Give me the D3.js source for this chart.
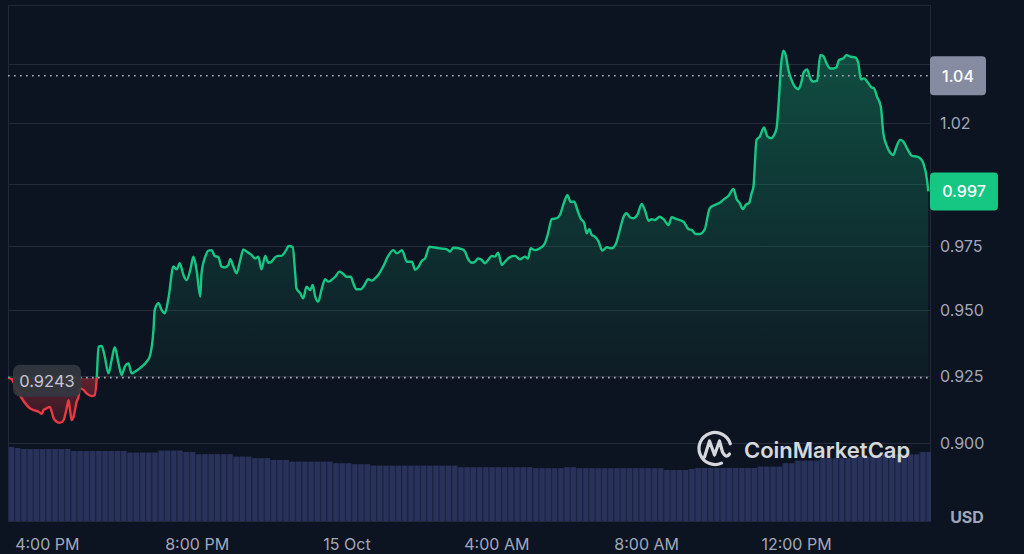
<!DOCTYPE html>
<html><head><meta charset="utf-8">
<script src="https://cdn.jsdelivr.net/npm/d3@7"></script>
<style>html,body{margin:0;padding:0;background:#0d1421;overflow:hidden}svg{display:block}</style>
</head><body><svg id="chart" width="1024" height="554"></svg>
<script>
// ---------- DATA ----------
const startTime = new Date(2023, 9, 14, 14, 57, 0);
const endTime = new Date(2023, 9, 15, 15, 35, 24);
// minutes after startTime
const minutes = [0,6,13,22,35,41,49,54,57,62,67,70,73,78,83,89,94,97,99,102,105,110,113,115,121,126,134,139,142,145,150,155,161,166,171,177,182,187,193,198,203,211,222,227,233,235,241,246,251,257,265,270,275,281,286,292,297,302,308,310,316,321,326,331,337,342,348,353,356,361,366,372,377,382,390,396,401,406,412,417,422,428,433,438,444,450,456,460,462,468,473,478,484,488,492,497,502,508,513,518,524,531,537,542,549,553,558,565,570,577,583,588,593,601,609,617,623,631,639,647,652,657,663,668,675,681,692,703,708,713,727,732,737,743,748,753,759,764,769,775,780,785,791,796,804,812,820,828,833,837,844,852,860,865,871,879,884,891,896,901,907,912,917,923,927,931,935,940,946,952,959,967,974,980,986,991,996,1002,1008,1015,1020,1026,1031,1036,1044,1050,1058,1063,1071,1082,1090,1095,1102,1108,1116,1124,1132,1140,1147,1154,1162,1167,1172,1177,1182,1187,1191,1194,1199,1204,1211,1216,1222,1226,1231,1235,1238,1242,1246,1250,1255,1261,1266,1270,1275,1280,1285,1290,1296,1301,1306,1311,1317,1322,1327,1331,1338,1343,1350,1357,1362,1366,1371,1378,1383,1387,1392,1398,1402,1407,1413,1418,1423,1429,1434,1440,1448,1456,1461,1466,1472,1474];
const prices = [0.9243,0.9237,0.9204,0.9166,0.9129,0.9122,0.9116,0.9108,0.9122,0.9129,0.9134,0.9116,0.9092,0.9079,0.9075,0.9085,0.9129,0.9159,0.9129,0.9085,0.9098,0.9153,0.9172,0.9203,0.9197,0.9184,0.9174,0.9178,0.9237,0.9360,
0.9363,0.9322,0.9259,0.9310,0.9358,0.9297,0.9253,0.9284,0.9297,0.9259,0.9265,0.9278,0.9303,0.9322,0.9424,0.9501,0.9527,0.9501,0.9488,0.9546,
0.9670,0.9659,0.9683,0.9637,0.9617,0.9657,0.9709,0.9657,0.9553,0.9644,0.9709,0.9733,0.9735,0.9712,0.9707,0.9670,0.9667,0.9676,0.9699,0.9670,
0.9644,0.9696,0.9738,0.9729,0.9716,0.9702,0.9709,0.9659,0.9712,0.9685,0.9689,0.9707,0.9712,0.9712,0.9729,0.9751,0.9746,0.9644,0.9585,0.9566,
0.9546,0.9591,0.9578,0.9598,0.9553,0.9533,0.9578,0.9620,0.9611,0.9617,0.9630,0.9650,0.9641,0.9630,0.9630,0.9605,0.9581,0.9581,0.9594,0.9620,
0.9615,0.9624,0.9637,0.9670,0.9712,0.9735,0.9722,0.9735,0.9689,0.9689,0.9657,0.9667,0.9693,0.9702,0.9748,0.9746,0.9742,0.9738,0.9729,0.9744,
0.9739,0.9729,0.9699,0.9685,0.9689,0.9702,0.9696,0.9683,0.9696,0.9712,0.9709,0.9725,0.9676,0.9689,0.9707,0.9712,0.9699,0.9709,0.9702,0.9742,
0.9735,0.9742,0.9762,0.9802,0.9858,0.9862,0.9875,0.9928,0.9955,0.9928,0.9928,0.9895,0.9862,0.9842,0.9802,0.9818,0.9795,0.9788,0.9768,0.9733,
0.9746,0.9742,0.9762,0.9815,0.9868,0.9882,0.9866,0.9862,0.9875,0.9919,0.9895,0.9852,0.9858,0.9855,0.9868,0.9858,0.9835,0.9866,0.9858,0.9848,
0.9818,0.9815,0.9799,0.9799,0.9818,0.9902,0.9915,0.9924,0.9939,0.9952,0.9980,0.9939,0.9923,0.9899,0.9917,0.9923,0.9962,0.9989,1.0181,1.0194,
1.0233,1.0197,1.0188,1.0197,1.0229,1.0361,1.0488,1.0557,1.0534,1.0474,1.0432,1.0401,1.0393,1.0415,1.0467,1.0477,1.0439,1.0425,1.0429,1.0538,
1.0534,1.0503,1.0481,1.0481,1.0486,1.0517,1.0524,1.0538,1.0531,1.0528,1.0503,1.0435,1.0439,1.0418,1.0401,1.0397,1.0361,1.0320,1.0209,1.0160,
1.0128,1.0119,1.0153,1.0181,1.0174,1.0146,1.0115,1.0112,1.0105,1.0086,1.0016,0.9970];
const baselinePrice = 0.9243;
const baselineLabel = "0.9243";
const markerPrice = 1.045;
const markerLabel = "1.04";
const lastLabel = "0.997";
const gridPrices = [0.9, 0.925, 0.95, 0.975, 1.0, 1.025, 1.05];
const tickPrices = [0.9, 0.925, 0.95, 0.975, 1.025];
const tickPriceLabels = ["0.900", "0.925", "0.950", "0.975", "1.02"];
const timeTicks = [new Date(2023,9,14,16), new Date(2023,9,14,20), new Date(2023,9,15,0), new Date(2023,9,15,4), new Date(2023,9,15,8), new Date(2023,9,15,12)];
const timeTickLabels = ["4:00 PM", "8:00 PM", "15 Oct", "4:00 AM", "8:00 AM", "12:00 PM"];
const volumeStepMinutes = 10;
const volumes = [74,73,72,72,72,72,72,72,72,72,70,70,70,70,70,70,70,70,70,68.3,68.3,68.3,68.3,68.3,70.3,70.3,70.3,70.3,69,69,
66.7,66.7,66.7,66.7,66.7,66.7,64.3,64.3,64.3,62.7,62.7,62.7,61,61,61,59.3,59.3,59.3,59.3,59.3,59.3,59.3,57.7,57.7,57.7,56.7,56.7,56.7,55.3,55.3,
55.3,55.3,55.3,55.3,55.3,55.3,55.3,55.3,55.3,55.3,55.3,55.3,53.7,53.7,53.7,53.7,53.7,53.7,53.7,53.7,53.7,53.7,53.7,53.7,52.7,52.7,52.7,52.7,52.7,53.7,
53.7,52.7,52.7,52.7,52.7,52.7,52.7,52.7,52.7,52.7,52.7,52.7,52.7,52.7,52.7,51,51,51,51,52,53,53,53,53,53,53,53,53,53,53,
54.3,54.3,54.3,54.3,57.7,57.7,60.3,60.3,60.3,60.3,62.7,62.7,62.7,62.7,62.7,64.3,64.3,64.3,64.3,64.3,66.5,66.5,66.5,66.5,66.5,66.5,69,69];

// ---------- STYLE / LAYOUT ----------
const W = 1024, H = 554;
const L = 8, R = 931, T = 5, B = 521;
const green = "#16c784", red = "#ea3943", axisText = "#a1a7bb";
const font = "Inter, 'Noto Sans', sans-serif";

const svg = d3.select("#chart");
svg.append("rect").attr("width", W).attr("height", H).attr("fill", "#0d1421");

const x = d3.scaleTime().domain([startTime, endTime]).range([L, R]);
const y = d3.scaleLog().domain([0.9, 1.05]).range([443.2, 64]);
const yv = d3.scaleLinear().domain([0, 80]).range([B, B - 80]);

const n = Math.min(minutes.length, prices.length);
const data = d3.range(n).map(i => ({t: new Date(+startTime + minutes[i] * 60000), v: prices[i]}));

const defs = svg.append("defs");
defs.append("clipPath").attr("id", "plotClip").append("rect").attr("x", L).attr("y", T).attr("width", R - L).attr("height", B - T);
const by = y(baselinePrice);
defs.append("clipPath").attr("id", "aboveClip").append("rect").attr("x", 0).attr("y", 0).attr("width", R + 2).attr("height", by);
defs.append("clipPath").attr("id", "belowClip").append("rect").attr("x", 0).attr("y", by).attr("width", R + 2).attr("height", B - by);
const gg = defs.append("linearGradient").attr("id", "gGrad").attr("gradientUnits", "userSpaceOnUse").attr("x1", 0).attr("x2", 0).attr("y1", 50).attr("y2", by);
gg.append("stop").attr("offset", 0).attr("stop-color", green).attr("stop-opacity", 0.32);
gg.append("stop").attr("offset", 1).attr("stop-color", green).attr("stop-opacity", 0.04);
const rg = defs.append("linearGradient").attr("id", "rGrad").attr("gradientUnits", "userSpaceOnUse").attr("x1", 0).attr("x2", 0).attr("y1", by).attr("y2", 428);
rg.append("stop").attr("offset", 0).attr("stop-color", red).attr("stop-opacity", 0.38);
rg.append("stop").attr("offset", 1).attr("stop-color", red).attr("stop-opacity", 0.12);

// frame
svg.append("rect").attr("x", L + 0.5).attr("y", T + 0.5).attr("width", R - L - 1).attr("height", B - T)
  .attr("fill", "none").attr("stroke", "#222838").attr("stroke-width", 1);

// grid
svg.append("g").selectAll("line").data(gridPrices).join("line")
  .attr("x1", L).attr("x2", R)
  .attr("y1", d => Math.round(y(d)) + 0.5).attr("y2", d => Math.round(y(d)) + 0.5)
  .attr("stroke", "#232a38").attr("stroke-width", 1);

// volume
const vg = svg.append("g").attr("clip-path", "url(#plotClip)");
volumes.forEach((v, i) => {
  const x0 = x(new Date(+startTime + i * volumeStepMinutes * 60000));
  const x1 = x(new Date(+startTime + (i + 1) * volumeStepMinutes * 60000));
  vg.append("rect").attr("x", x0).attr("y", yv(v)).attr("width", x1 - x0).attr("height", B - yv(v)).attr("fill", "#1f2646");
  vg.append("rect").attr("x", x0 + 1).attr("y", yv(v)).attr("width", x1 - x0 - 1.2).attr("height", B - yv(v)).attr("fill", "#29325a");
});

// areas
const area = d3.area().x(d => x(d.t)).y0(by).y1(d => y(d.v)).curve(d3.curveMonotoneX);
const line = d3.line().x(d => x(d.t)).y(d => y(d.v)).curve(d3.curveMonotoneX);
svg.append("path").datum(data).attr("d", area).attr("fill", "url(#gGrad)").attr("clip-path", "url(#aboveClip)");
svg.append("path").datum(data).attr("d", area).attr("fill", "url(#rGrad)").attr("clip-path", "url(#belowClip)");

// dotted lines
[baselinePrice, markerPrice].forEach(p => {
  svg.append("line").attr("x1", L).attr("x2", R).attr("y1", y(p)).attr("y2", y(p))
    .attr("stroke", "#b4b9c5").attr("stroke-width", 1.7).attr("stroke-dasharray", "1.7 4.3").attr("opacity", 0.9);
});

svg.append("path").datum(data).attr("d", line).attr("fill", "none").attr("stroke", green).attr("stroke-width", 2.4)
  .attr("stroke-linejoin", "round").attr("clip-path", "url(#aboveClip)");
svg.append("path").datum(data).attr("d", line).attr("fill", "none").attr("stroke", red).attr("stroke-width", 2.4)
  .attr("stroke-linejoin", "round").attr("clip-path", "url(#belowClip)");

// right axis labels
svg.append("g").selectAll("text").data(tickPrices).join("text")
  .attr("x", 940).attr("y", d => y(d)).attr("dy", "0.36em")
  .attr("fill", axisText).attr("font-family", font).attr("font-size", 16)
  .text((d, i) => tickPriceLabels[i]);

// bottom axis labels
svg.append("g").selectAll("text").data(timeTicks).join("text")
  .attr("x", d => x(d)).attr("y", 550).attr("text-anchor", "middle")
  .attr("fill", axisText).attr("font-family", font).attr("font-size", 16)
  .text((d, i) => timeTickLabels[i]);

svg.append("text").attr("x", 967).attr("y", 523).attr("text-anchor", "middle")
  .attr("fill", axisText).attr("font-family", font).attr("font-size", 16).attr("font-weight", 700).text("USD");

// marker label
const my = y(markerPrice);
svg.append("rect").attr("x", 930).attr("y", my - 19.5).attr("width", 56).attr("height", 39).attr("rx", 4).attr("fill", "#858ca2");
svg.append("text").attr("x", 958).attr("y", my).attr("dy", "0.36em").attr("text-anchor", "middle")
  .attr("fill", "#ffffff").attr("font-family", font).attr("font-size", 16).attr("font-weight", 500).text(markerLabel);

// last price label
const ly = y(prices[n - 1]);
svg.append("rect").attr("x", 930).attr("y", ly - 19).attr("width", 68).attr("height", 38).attr("rx", 4).attr("fill", green);
svg.append("text").attr("x", 964).attr("y", ly).attr("dy", "0.36em").attr("text-anchor", "middle")
  .attr("fill", "#ffffff").attr("font-family", font).attr("font-size", 16).attr("font-weight", 500).text(lastLabel);

// baseline label
svg.append("rect").attr("x", 13).attr("y", by - 13).attr("width", 68).attr("height", 32).attr("rx", 7).attr("fill", "#33373f").attr("opacity", 0.93);
svg.append("text").attr("x", 47).attr("y", by + 3).attr("dy", "0.36em").attr("text-anchor", "middle")
  .attr("fill", "#c3c7d0").attr("font-family", font).attr("font-size", 16.5).text(baselineLabel);

// watermark
const wm = svg.append("g").attr("opacity", 0.92);
const p = d3.path();
p.arc(715, 448.5, 16, -0.3, 1.15, true);
wm.append("path").attr("d", p.toString()).attr("fill", "none").attr("stroke", "#e6e8ec").attr("stroke-width", 3.2).attr("stroke-linecap", "round");
wm.append("path").attr("d", "M704.5,457 L709.5,441 L714.5,455 L719.5,441 L722.5,452 Q726,459 729.5,454")
  .attr("fill", "none").attr("stroke", "#e6e8ec").attr("stroke-width", 3.2).attr("stroke-linecap", "round").attr("stroke-linejoin", "round");
wm.append("text").attr("x", 744).attr("y", 457.5).attr("fill", "#e6e8ec").attr("font-family", font)
  .attr("font-size", 22).attr("font-weight", 600).text("CoinMarketCap");
</script></body></html>
